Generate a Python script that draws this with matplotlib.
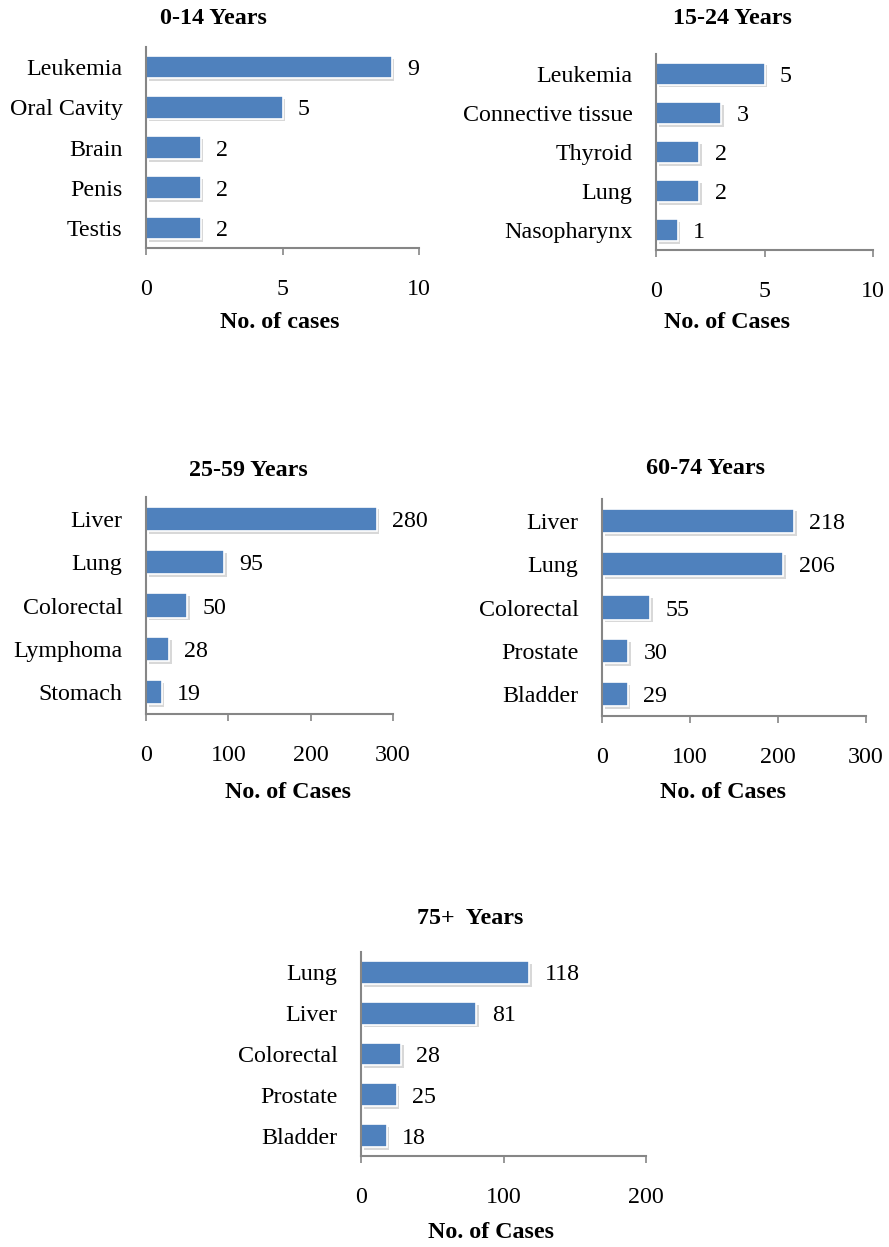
import matplotlib.pyplot as plt
import matplotlib.patheffects as pe

plt.rcParams['font.family'] = ['Liberation Serif', 'DejaVu Serif']
plt.rcParams['font.size'] = 17.3

# data per age group (top to bottom)
cats_0_14 = ['Leukemia', 'Oral Cavity', 'Brain', 'Penis', 'Testis']
vals_0_14 = [9, 5, 2, 2, 2]
cats_15_24 = ['Leukemia', 'Connective tissue', 'Thyroid', 'Lung', 'Nasopharynx']
vals_15_24 = [5, 3, 2, 2, 1]
cats_25_59 = ['Liver', 'Lung', 'Colorectal', 'Lymphoma', 'Stomach']
vals_25_59 = [280, 95, 50, 28, 19]
cats_60_74 = ['Liver', 'Lung', 'Colorectal', 'Prostate', 'Bladder']
vals_60_74 = [218, 206, 55, 30, 29]
cats_75 = ['Lung', 'Liver', 'Colorectal', 'Prostate', 'Bladder']
vals_75 = [118, 81, 28, 25, 18]

W, H = 889, 1247
fig = plt.figure(figsize=(W / 100, H / 100), dpi=100)

bar_color = '#4F81BD'
axis_color = '#868686'

# title, title pos, cats, vals, xmax, ticks, xlabel, xlabel pos, axes box [left, right, top, bottom] in px
panels = [
    ('0-14 Years', (213, 18), cats_0_14, vals_0_14, 10, [0, 5, 10],
     'No. of cases', (280, 322), [146, 419, 47, 248]),
    ('15-24 Years', (732, 19), cats_15_24, vals_15_24, 10, [0, 5, 10],
     'No. of Cases', (727, 323), [656, 873, 54, 250]),
    ('25-59 Years', (248, 470), cats_25_59, vals_25_59, 300, [0, 100, 200, 300],
     'No. of Cases', (288, 793), [146, 393, 497, 714]),
    ('60-74 Years', (705, 469), cats_60_74, vals_60_74, 300, [0, 100, 200, 300],
     'No. of Cases', (723, 792), [602, 866, 499, 716]),
    ('75+  Years', (470, 918), cats_75, vals_75, 200, [0, 100, 200],
     'No. of Cases', (491, 1232), [361, 646, 952, 1156]),
]

for title, (tx, ty), cats, vals, xmax, ticks, xlabel, (lx, ly), (l, r, t, b) in panels:
    ax = fig.add_axes([l / W, 1 - b / H, (r - l) / W, (b - t) / H])
    y = list(range(len(cats)))
    bars = ax.barh(y, vals, height=0.56, color=bar_color, edgecolor='white', linewidth=1.2)
    for bar in bars:
        bar.set_path_effects([
            pe.SimplePatchShadow(offset=(2, -2), shadow_rgbFace='#aaaaaa', alpha=0.45),
            pe.Normal(),
        ])
    for yi, v in zip(y, vals):
        ax.annotate(str(v), (v, yi), xytext=(11, 0), textcoords='offset points',
                    ha='left', va='center_baseline')
    ax.set_xlim(0, xmax)
    ax.set_ylim(len(cats) - 0.5, -0.5)
    ax.set_xticks(ticks)
    ax.set_yticks(y)
    ax.set_yticklabels(cats)
    for s in ['top', 'right']:
        ax.spines[s].set_visible(False)
    for s in ['left', 'bottom']:
        ax.spines[s].set_color(axis_color)
        ax.spines[s].set_linewidth(1.5)
    ax.tick_params(axis='x', direction='out', length=5, width=1.2, color=axis_color, pad=17)
    ax.tick_params(axis='y', length=0, pad=17)
    fig.text(tx / W, 1 - ty / H, title, ha='center', va='center', fontweight='bold')
    fig.text(lx / W, 1 - ly / H, xlabel, ha='center', va='center', fontweight='bold')

fig.savefig('out.png', dpi=100)
